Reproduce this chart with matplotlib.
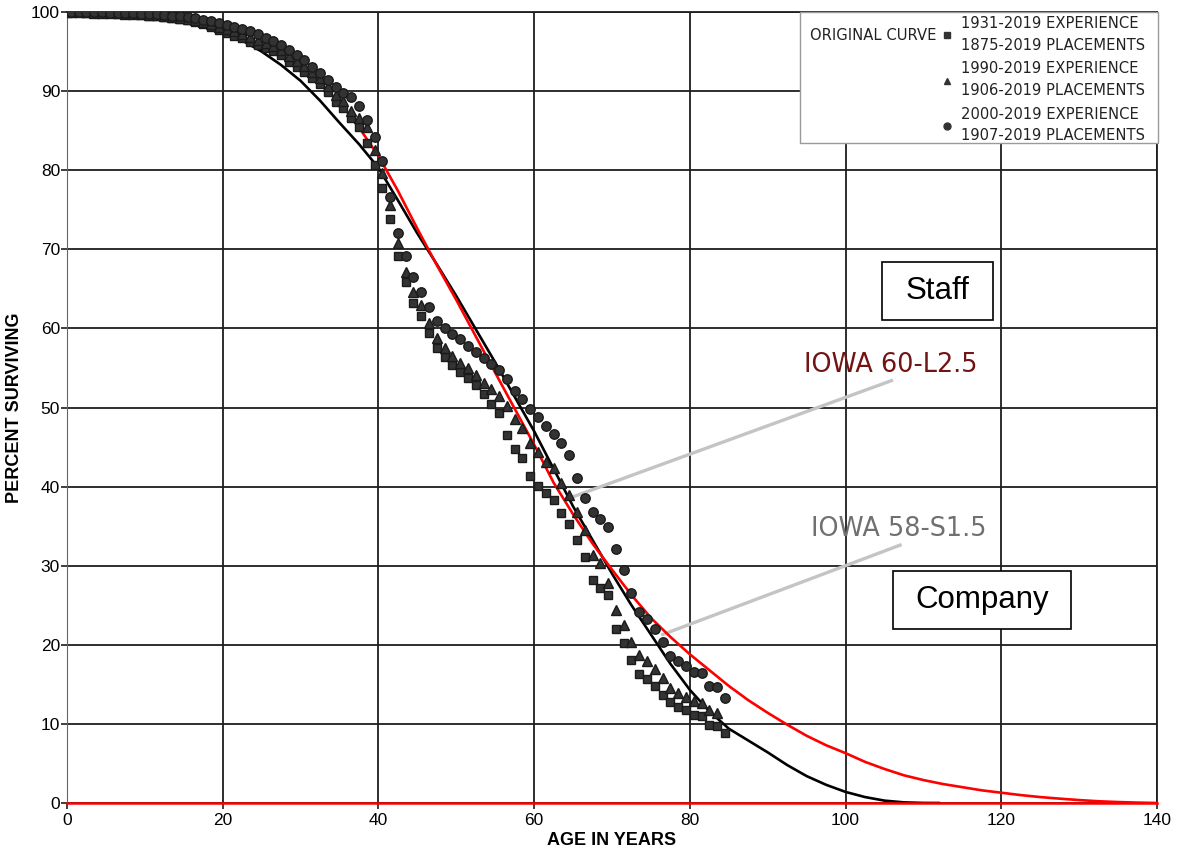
import matplotlib
matplotlib.use("Agg")
import matplotlib.pyplot as plt
from matplotlib.patches import Rectangle
from matplotlib.lines import Line2D

# --- Données ---
ages_pts = [0] + [i + 0.5 for i in range(85)]  # 0, 0.5, 1.5 ... 84.5

carres = [100.0, 99.98, 99.95, 99.93, 99.9, 99.88, 99.85, 99.8, 99.75, 99.7,
          99.65, 99.55, 99.45, 99.35, 99.25, 99.1, 98.95, 98.75, 98.45, 98.1,
          97.75, 97.35, 97.0, 96.65, 96.25, 95.85, 95.4, 95.05, 94.55, 93.7,
          93.0, 92.45, 91.7, 90.9, 89.85, 88.6, 87.9, 86.6, 85.5, 83.5,
          80.7, 77.7, 73.8, 69.2, 65.9, 63.2, 61.6, 59.4, 57.5, 56.4,
          55.4, 54.5, 53.7, 52.8, 51.7, 50.4, 49.3, 46.5, 44.8, 43.6,
          41.3, 40.1, 39.2, 38.3, 36.6, 35.3, 33.2, 31.1, 28.2, 27.2,
          26.3, 22.0, 20.2, 18.1, 16.3, 15.7, 14.8, 13.7, 12.8, 12.1,
          11.8, 11.1, 11.0, 9.9, 9.7, 8.8]

triangles = [100.0, 99.98, 99.96, 99.95, 99.93, 99.9, 99.88, 99.85, 99.8, 99.78,
             99.72, 99.65, 99.57, 99.5, 99.4, 99.28, 99.15, 98.98, 98.75, 98.45,
             98.1, 97.8, 97.55, 97.2, 96.85, 96.5, 96.05, 95.65, 95.2, 94.45,
             93.8, 93.2, 92.4, 91.6, 90.6, 89.5, 88.8, 87.5, 86.6, 85.5,
             82.6, 79.6, 75.6, 70.8, 67.1, 64.6, 62.9, 60.7, 58.8, 57.5,
             56.5, 55.6, 55.0, 54.1, 53.1, 52.3, 51.5, 50.2, 48.5, 47.4,
             45.5, 44.4, 43.1, 42.4, 40.4, 39.0, 36.8, 34.5, 31.3, 30.4,
             27.8, 24.4, 22.5, 20.4, 18.7, 18.0, 16.9, 15.8, 14.5, 13.9,
             13.4, 12.9, 12.7, 11.7, 11.4]

cercles = [100.0, 99.99, 99.98, 99.97, 99.96, 99.95, 99.93, 99.9, 99.88, 99.85,
           99.8, 99.75, 99.7, 99.62, 99.55, 99.45, 99.32, 99.18, 99.0, 98.8,
           98.55, 98.35, 98.15, 97.9, 97.55, 97.2, 96.75, 96.3, 95.8, 95.2,
           94.6, 93.9, 93.1, 92.3, 91.4, 90.5, 89.8, 89.3, 88.1, 86.4,
           84.2, 81.1, 76.6, 72.1, 69.1, 66.5, 64.6, 62.7, 60.9, 60.0,
           59.3, 58.6, 57.8, 57.0, 56.3, 55.5, 54.8, 53.6, 52.1, 51.1,
           49.8, 48.8, 47.7, 46.6, 45.5, 44.0, 41.1, 38.6, 36.8, 35.9,
           34.9, 32.1, 29.5, 26.6, 24.2, 23.3, 22.0, 20.4, 18.6, 18.0,
           17.3, 16.6, 16.4, 14.8, 14.7, 13.3]

# Courbe IOWA 58-S1.5 (noire)
s15_age = [0, 5, 10, 15, 20, 22.5, 25, 27.5, 30, 32.5, 35, 37.5, 40, 42.5, 45,
           47.5, 50, 55, 60, 65, 70, 72.5, 75, 77.5, 80, 82.5, 85, 87.5, 90,
           92.5, 95, 97.5, 100, 102.5, 105, 107.5, 110, 112]
s15_pct = [100, 99.95, 99.7, 99.0, 97.5, 96.4, 95.0, 93.3, 91.3, 88.8, 86.0,
           83.3, 80.3, 76.2, 72.0, 68.1, 64.1, 55.7, 47.0, 37.5, 29.0, 25.0,
           21.3, 17.6, 14.3, 11.6, 9.4, 7.9, 6.4, 4.8, 3.4, 2.3, 1.4, 0.75,
           0.3, 0.08, 0.01, 0]

# Courbe IOWA 60-L2.5 (rouge)
l25_age = [0, 5, 10, 15, 20, 22.5, 25, 27.5, 30, 32.5, 35, 37.5, 40, 42.5, 45,
           47.5, 50, 55, 60, 62.5, 65, 67.5, 70, 72.5, 75, 77.5, 80, 82.5, 85,
           87.5, 90, 92.5, 95, 97.5, 100, 102.5, 105, 107.5, 110, 112.5, 115,
           117.5, 120, 122.5, 125, 127.5, 130, 132.5, 135, 137.5, 140]
l25_pct = [100, 99.97, 99.8, 99.2, 97.9, 96.9, 95.7, 94.3, 92.8, 90.9, 88.6,
           85.4, 81.8, 77.4, 72.6, 68.0, 63.6, 54.4, 45.3, 40.5, 36.5, 32.8,
           29.5, 26.3, 23.4, 21.0, 18.8, 16.8, 14.8, 13.0, 11.4, 9.9, 8.5,
           7.3, 6.3, 5.2, 4.3, 3.5, 2.9, 2.4, 2.0, 1.6, 1.3, 1.0, 0.75, 0.55,
           0.37, 0.22, 0.12, 0.05, 0.0]

legendes = ["1931-2019 EXPERIENCE\n1875-2019 PLACEMENTS",
            "1990-2019 EXPERIENCE\n1906-2019 PLACEMENTS",
            "2000-2019 EXPERIENCE\n1907-2019 PLACEMENTS"]

# --- Figure ---
W, H = 1177, 850
fig = plt.figure(figsize=(W / 100, H / 100), dpi=100)
ax = fig.add_axes([67 / W, 1 - 803 / H, 1090 / W, 791 / H])

ax.plot(s15_age, s15_pct, color="black", lw=1.9, zorder=3)
ax.plot(l25_age, l25_pct, color="#ff0000", lw=1.9, zorder=3)
ax.axhline(0, color="#ff0000", lw=1.8, zorder=3, clip_on=False)

gris = "#333333"
ax.plot(ages_pts, carres, "s", ms=6.3, color=gris, mec="#1a1a1a", zorder=4)
ax.plot(ages_pts[:len(triangles)], triangles, "^", ms=6.8, color=gris,
        mec="#1a1a1a", zorder=4)
ax.plot(ages_pts, cercles, "o", ms=6.8, color=gris, mec="#1a1a1a", zorder=4)

ax.set_xlim(0, 140)
ax.set_ylim(0, 100)
ax.set_xticks(range(0, 141, 20))
ax.set_yticks(range(0, 101, 10))
ax.grid(True, color="#1e1e1e", lw=1.3)
ax.set_axisbelow(True)
for s in ["top", "right"]:
    ax.spines[s].set_color("#1e1e1e")
    ax.spines[s].set_linewidth(1.3)
ax.spines["left"].set_color("#666666")
ax.spines["bottom"].set_visible(False)
ax.tick_params(length=4, width=1.2, color="#1e1e1e",
               labelsize=12.5, labelfontfamily="Liberation Sans")
ax.tick_params(axis="y", pad=1)
ax.tick_params(axis="x", pad=3)

ax.set_xlabel("AGE IN YEARS", fontsize=13, fontweight="bold",
              family="Liberation Sans", labelpad=3)
ax.set_ylabel("PERCENT SURVIVING", fontsize=13, fontweight="bold",
              family="Liberation Sans", labelpad=5.5)

# Étiquettes des courbes + traits de rappel
ax.plot([64.4, 105.9], [38.5, 53.4], color="#c4c4c4", lw=2.4, zorder=2.5)
ax.plot([76.5, 107.0], [21.3, 32.6], color="#c4c4c4", lw=2.4, zorder=2.5)
ax.text(105.8, 54.5, "IOWA 60-L2.5", color="#731414", fontsize=18.4,
        ha="center", va="baseline", zorder=6)
ax.text(106.8, 33.7, "IOWA 58-S1.5", color="#707070", fontsize=18.4,
        ha="center", va="baseline", zorder=6)

# Cadres "Staff" et "Company"
for (x0, y0, x1, y1, txt) in [(882, 262, 993, 320, "Staff"),
                              (893, 571, 1071, 629, "Company")]:
    fig.add_artist(Rectangle((x0 / W, 1 - y1 / H), (x1 - x0) / W, (y1 - y0) / H,
                             transform=fig.transFigure, facecolor="white",
                             edgecolor="black", lw=1.2))
    fig.text((x0 + x1) / 2 / W, 1 - (y0 + y1) / 2 / H, txt, fontsize=22.5,
             family="Liberation Sans", ha="center", va="center", zorder=3)

# Légende
fig.add_artist(Rectangle((800 / W, 1 - 143 / H), 358 / W, 131 / H,
                         transform=fig.transFigure, facecolor="white",
                         edgecolor="#9a9a9a", lw=1.0))
fig.text(810 / W, 1 - 35 / H, "ORIGINAL CURVE", fontsize=10.6, color="#222222",
         va="center", ha="left", zorder=3)
poignees = [Line2D([], [], ls="", marker=m, ms=5, color=gris)
            for m in ["s", "^", "o"]]
leg = fig.legend(poignees, legendes, loc="upper left",
                 bbox_to_anchor=(940 / W, 1 - 16 / H), frameon=False,
                 borderpad=0, borderaxespad=0, handlelength=1.0,
                 handletextpad=0.45, labelspacing=0.6, fontsize=10.6)
for t in leg.get_texts():
    t.set_color("#222222")
    t.set_linespacing(1.55)

fig.savefig("out.png", dpi=100)
